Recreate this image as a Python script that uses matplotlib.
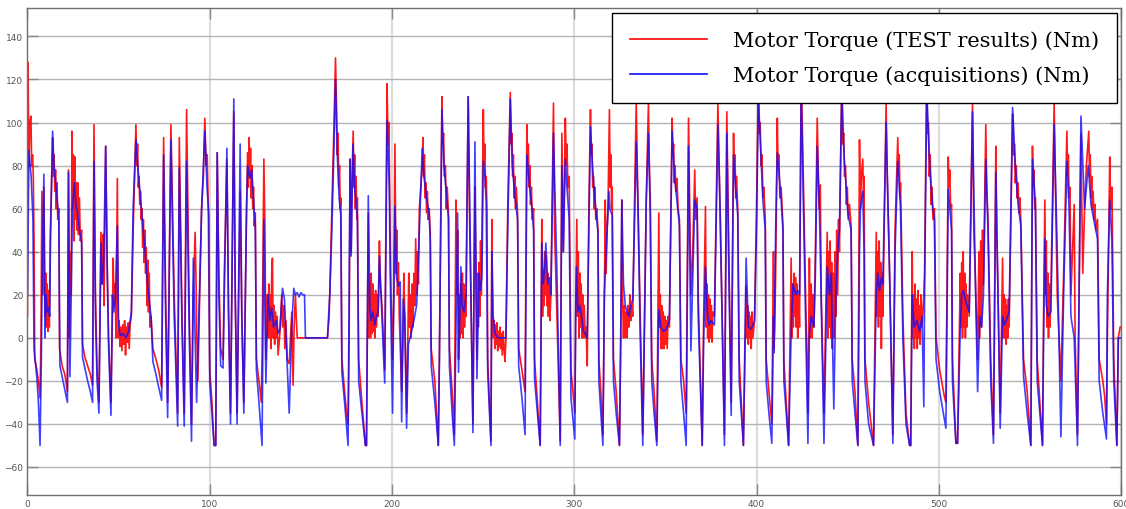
import matplotlib
matplotlib.use("Agg")
import matplotlib.pyplot as plt

# (time s, torque Nm), one list per 100 s window
blue_000 = [(0, 20), (0.8, 87), (2.0, 75), (3.0, 55), (3.6, -5), (4.5, -13), (5.2, -19), (6.0, -30), (6.9, -50), (7.6, -10), (8.2, 40), (9.0, 76), (9.6, 0), (10.2, 20), (10.8, 12), (11.5, 14), (12.2, 10), (12.6, 45), (13.8, 96), (14.5, 80), (15.5, 72), (16.5, 62), (17.2, 55), (17.8, -13), (19.0, -18), (20.5, -24), (21.9, -30), (22.5, 77), (23.3, -18), (24.0, 20), (24.6, 60), (25.7, 72), (26.5, 62), (27.5, 58), (28.5, 50), (29.7, 45), (30.2, -9), (31.5, -14), (33.0, -20), (34.5, -25), (35.7, -30), (36.5, 82), (37.3, 10), (38.2, -20), (39.2, -35), (40.3, 44), (41.0, 25), (41.8, 35), (42.9, 89), (43.8, 30), (44.5, -4), (45.8, -36), (46.6, 20), (47.3, 12), (48.2, 18), (49.3, 52), (50.0, 5), (51.0, 1), (52.5, 2), (54.0, 0), (55.5, 3), (57.0, 12), (58.0, 61), (59.5, 92), (60.5, 80), (62.0, 65), (63.5, 50), (65.0, 35), (66.3, 21), (67.8, 10), (68.8, -11), (70.5, -17), (72.0, -23), (73.6, -29), (74.7, 85), (75.8, 10), (76.9, -37), (78.7, 92), (80.5, 10), (82.4, -41), (83.3, 79), (84.8, 5), (86.0, -41), (87.3, 82), (88.8, 0), (90.0, -48), (91.0, 37), (92.8, -30), (95.5, 58), (97.3, 96), (98.5, 70), (99.5, 57)]
blue_100 = [(100.0, -21), (101.2, -35), (102.4, -50), (103.3, -50), (104.1, 86), (105.0, 20), (106.0, -13), (107.3, -14), (108.0, 20), (109.4, 88), (110.3, 10), (111.4, -40), (113.2, 111), (114.0, 20), (115.0, -40), (116.7, 90), (117.6, 10), (118.7, -35), (120.2, 60), (120.8, 80), (122.0, 74), (123.0, 78), (124.3, 60), (125.0, 52), (125.6, -15), (127.0, -30), (128.7, -50), (129.7, 55), (130.8, -21), (132.0, 20), (133.0, 8), (134.0, 14), (135.0, 5), (136.5, 8), (137.5, 2), (138.5, 4), (139.9, 23), (141.0, 18), (143.6, -35), (145.0, 5), (146.1, 23), (147.0, 20), (148.0, 21), (149.0, 19), (150.0, 21), (151.0, 20), (152.0, 20), (152.5, 0), (164.6, 0), (165.9, 21), (167.0, 50), (168.2, 90), (169.0, 120), (170.0, 85), (171.0, 65), (171.9, 57), (172.5, -16), (174.0, -30), (175.9, -50), (177.0, 83), (177.6, 38), (178.6, 90), (179.5, 70), (181.0, 57), (181.7, -20), (183.5, -35), (185.4, -50), (186.0, -50), (187.0, 66), (187.8, 15), (188.5, 8), (189.5, 12), (190.5, 6), (191.5, 10), (192.4, 12), (193.1, 38), (194.5, 10), (196.0, -21), (197.3, 101), (198.5, 70), (199.2, 20)]
blue_200 = [(200.3, -35), (201.0, 20), (201.6, 61), (202.5, 28), (203.5, 24), (204.5, 26), (205.3, -39), (206.2, 18), (207.0, 10), (208.0, -42), (209.0, -3), (210.5, 2), (212.0, 8), (213.5, 15), (214.0, 25), (215.0, 50), (216.6, 88), (217.5, 75), (219.0, 65), (220.4, 57), (221.0, 45), (221.5, -13), (223.5, -30), (225.4, -50), (226.0, -10), (227.4, 106), (228.5, 80), (230.0, 65), (231.0, 55), (231.5, -13), (233.0, -35), (234.2, -50), (235.5, 30), (236.0, 58), (236.5, -16), (237.8, 33), (238.5, 15), (239.5, 12), (240.6, 20), (241.8, 112), (243.0, 40), (244.4, -44), (245.5, 91), (246.6, -19), (247.8, 30), (248.5, 22), (249.3, 28), (250.1, 82), (251.0, 75), (251.7, 62), (252.5, -16), (254.3, -50), (254.8, 40), (255.5, 10), (256.5, 2), (258.0, 0), (260.0, 0), (262.5, 0), (263.5, 50), (264.9, 111), (266.0, 80), (267.5, 65), (268.9, 55), (269.5, -13), (271.3, -28), (273.0, -45), (274.0, 85), (275.0, 75), (276.5, 62), (277.7, 50), (278.2, -19), (279.8, -35), (281.3, -50), (282.2, 44), (283.0, 25), (284.0, 35), (284.4, 44), (285.5, 25), (286.5, 28), (287.2, 20), (288.6, 95), (290.5, 30), (292.3, -50), (293.2, 80), (294.0, 40), (295.1, 83), (296.0, 70), (297.2, 55), (298.2, -28), (300.3, -47)]
blue_300 = [(300.8, 15), (301.2, 33), (302.0, 12), (303.0, 15), (304.0, 10), (305.0, 3), (306.0, 2), (307.1, 0), (308.0, 50), (308.9, 98), (310.0, 80), (311.3, 64), (313.0, 49), (313.5, -20), (314.6, -35), (315.7, -50), (316.5, 20), (317.5, 40), (319.0, 68), (319.5, 60), (320.8, 57), (321.5, -20), (323.0, -35), (324.8, -50), (325.5, 0), (326.1, 64), (327.0, 25), (328.0, 15), (329.0, 12), (330.0, 10), (331.0, 15), (332.1, 18), (333.0, 50), (334.0, 91), (335.0, 60), (336.2, 0), (337.6, -50), (339.5, 64), (340.7, 95), (341.7, 57), (342.5, -20), (343.8, -35), (345.3, -50), (346.4, 13), (347.5, 5), (349.0, 3), (350.5, 4), (352.2, 8), (353.7, 96), (355.0, 75), (356.3, 64), (357.7, 52), (358.5, -20), (360.0, -35), (361.4, -50), (362.7, 89), (364.0, -6), (366.1, 64), (367.4, 60), (368.0, 10), (370.2, -50), (371.0, 0), (372.0, 33), (373.0, 12), (374.0, 6), (375.0, 8), (376.9, 6), (378.8, 99), (380.0, 60), (382.4, -50), (383.7, 95), (384.8, 30), (386.1, -36), (387.4, 85), (388.5, 70), (389.7, 57), (390.5, -20), (392.8, -50), (394.3, 37), (395.5, 5), (397.0, 4), (398.9, 8), (400.0, 50)]
blue_400 = [(401.0, 112), (403.5, 64), (404.8, 50), (405.3, -20), (406.8, -35), (408.4, -49), (409.3, 10), (409.6, -7), (410.5, 50), (411.4, 86), (413.5, 64), (414.5, 50), (415.0, -20), (416.3, -35), (417.6, -50), (419.0, 2), (420.0, 25), (421.5, 20), (422.5, 22), (423.6, 20), (424.5, 115), (426.0, 50), (428.2, -49), (429.0, 2), (430.0, 10), (431.5, 5), (432.3, 30), (433.3, 89), (434.5, 60), (437.0, -49), (438.8, 33), (440.0, 20), (441.0, 30), (442.4, -33), (443.5, 20), (444.5, 40), (445.5, 50), (446.8, 115), (448.0, 85), (450.1, 58), (451.9, 50), (452.5, -20), (454.0, -35), (455.6, -50), (456.5, 40), (457.0, 60), (458.3, 68), (459.0, 40), (459.5, -20), (461.5, -40), (464.2, -50), (465.7, 20), (466.5, 30), (467.5, 22), (468.5, 28), (469.3, 25), (471.1, 100), (473.0, 30), (474.8, -49), (476.0, 40), (477.5, 82), (479.0, 60), (480.3, 0), (482.0, -40), (484.0, -50), (484.6, -50), (485.4, 20), (486.5, 5), (488.0, 8), (489.5, 3), (490.8, 10), (491.8, -32), (492.2, 20), (493.4, 115), (495.0, 80), (496.5, 62), (497.6, 55)]
blue_500 = [(498.5, -10), (500.5, -25), (503.9, -42), (505.2, 69), (507.0, 50), (507.5, -20), (509.4, -49), (510.3, -49), (511.8, 5), (512.5, 20), (513.5, 22), (514.5, 18), (515.5, 15), (516.7, 12), (518.5, 105), (520.0, 30), (521.3, -25), (522.5, 10), (523.5, 5), (524.5, 20), (525.8, 83), (527.0, 50), (528.5, -20), (530.0, -49), (531.3, 77), (532.5, 20), (533.7, -42), (535.0, 10), (536.0, 6), (537.0, 8), (538.6, 12), (540.5, 107), (542.0, 80), (543.5, 62), (545.0, 52), (546.5, -18), (548.5, -35), (550.5, -50), (551.4, 83), (553.0, 62), (554.0, -20), (556.9, -50), (557.5, 0), (558.2, 46), (559.0, 15), (560.0, 10), (561.5, 12), (563.3, 99), (565.0, 40), (567.0, -46), (568.5, 20), (570.3, 82), (571.5, 60), (572.5, 10), (574.3, 0), (576.1, -50), (578.0, 103), (580.0, 60), (582.0, 80), (583.5, 62), (585.0, 55), (587.1, 46), (588.0, -20), (590.0, -35), (592.0, -47), (592.5, 20), (593.8, 64), (595.0, 45), (596.0, -20), (597.7, -50), (598.5, 0), (600.0, 0)]

red_000 = [(0, 10), (0.3, 128), (0.8, 80), (1.3, 100), (1.9, 103), (2.3, 80), (2.8, 85), (3.2, 75), (3.6, 45), (4.0, -10), (5.0, -14), (6.0, -20), (6.9, -28), (7.4, 0), (7.9, 68), (8.5, 20), (9.0, 70), (9.6, 10), (10.0, 30), (10.4, 5), (10.8, 25), (11.2, 3), (11.6, 22), (12.0, 5), (12.6, 50), (13.8, 93), (14.2, 75), (14.6, 85), (15.0, 68), (15.4, 78), (15.8, 60), (16.2, 72), (16.6, 55), (17.2, 60), (17.6, -5), (19.0, -13), (20.5, -17), (21.9, -25), (22.5, 78), (23.0, 0), (23.5, 40), (24.0, 20), (24.4, 96), (24.8, 60), (25.2, 85), (25.6, 45), (26.0, 84), (26.4, 55), (26.8, 72), (27.2, 50), (27.6, 72), (28.0, 48), (28.5, 65), (29.0, 45), (29.7, 50), (30.2, -3), (31.5, -9), (33.0, -13), (34.5, -17), (35.7, -22), (36.5, 99), (37.3, 20), (38.2, -15), (39.2, -30), (39.8, 10), (40.3, 49), (41.0, 25), (41.5, 48), (42.0, 15), (42.9, 89), (43.8, 30), (44.5, 0), (45.8, -30), (46.6, 10), (47.0, 37), (47.5, 15), (48.0, 25), (48.6, 0), (49.3, 74), (49.8, 0), (50.3, 8), (50.8, -4), (51.3, 5), (51.8, -6), (52.3, 6), (52.8, -3), (53.3, 8), (53.8, -8), (54.3, 5), (54.8, -2), (55.3, 7), (55.8, -5), (56.3, 6), (57.0, 10), (58.0, 50), (59.5, 99), (60.0, 80), (60.4, 90), (60.8, 70), (61.2, 75), (61.6, 62), (62.0, 68), (62.4, 55), (62.8, 60), (63.2, 42), (63.6, 55), (64.0, 35), (64.4, 50), (64.8, 30), (65.2, 42), (65.6, 15), (66.0, 36), (66.4, 12), (66.8, 30), (67.2, 5), (67.8, 10), (68.8, -5), (70.5, -10), (72.0, -15), (73.6, -23), (74.7, 93), (75.8, 20), (76.9, -30), (78.7, 99), (80.5, 20), (82.4, -35), (83.3, 93), (84.8, 10), (86.0, -35), (87.3, 106), (88.8, 10), (90.0, -40), (91.0, 20), (92.0, 49), (92.5, 25), (92.8, 5), (93.5, -20), (95.5, 60), (96.5, 75), (97.3, 102), (98.0, 80), (98.6, 85), (99.2, 60)]
red_100 = [(100.0, -15), (101.2, -30), (102.4, -50), (103.3, -50), (104.1, 86), (105.0, 30), (106.0, -5), (107.3, -10), (108.0, 30), (109.4, 83), (110.3, 15), (111.4, -35), (113.2, 105), (114.0, 20), (115.0, -35), (116.7, 68), (117.6, 10), (118.7, -30), (120.2, 60), (120.8, 86), (121.2, 70), (121.6, 93), (122.0, 75), (122.4, 88), (122.8, 65), (123.2, 80), (123.6, 60), (124.0, 70), (124.4, 52), (125.0, 58), (125.6, -10), (127.0, -20), (128.3, -30), (128.7, -10), (129.7, 83), (130.3, 50), (130.8, -10), (131.5, 20), (132.0, 0), (132.4, 25), (132.8, 0), (133.2, 20), (133.6, -5), (134.0, 30), (134.4, 37), (134.8, 0), (135.2, 15), (135.6, -3), (136.0, 12), (136.5, 0), (137.0, 10), (137.5, -8), (138.5, 2), (139.5, 20), (140.0, 5), (140.6, 15), (141.2, -5), (141.8, 8), (142.5, -10), (143.6, -12), (144.5, 3), (145.0, 12), (145.7, -22), (146.3, 5), (147.0, 20), (147.5, 9), (148.0, 0), (152.5, 0), (164.6, 0), (165.5, 10), (165.9, 21), (167.0, 60), (168.2, 100), (169.0, 130), (169.5, 110), (170.0, 85), (170.4, 95), (170.8, 70), (171.2, 80), (171.6, 60), (171.9, 65), (172.5, -10), (174.0, -25), (175.4, -38), (175.9, -40), (176.5, 0), (177.0, 83), (177.6, 40), (178.0, 70), (178.7, 96), (179.1, 70), (179.5, 85), (179.9, 60), (180.3, 75), (180.7, 55), (181.0, 65), (181.7, -10), (183.5, -30), (185.4, -50), (186.0, -50), (187.0, 58), (187.4, 0), (187.8, 25), (188.2, 0), (188.6, 30), (189.0, 2), (189.4, 25), (189.8, 3), (190.2, 20), (190.6, 0), (191.0, 22), (191.5, 5), (192.0, 20), (192.4, 10), (193.1, 45), (193.6, 25), (194.5, 15), (196.0, -15), (197.3, 118), (197.8, 90), (198.3, 100), (198.8, 60), (199.2, 30)]
red_200 = [(200.3, -10), (201.0, 20), (201.6, 90), (202.2, 30), (202.6, 50), (203.0, 20), (203.5, 35), (204.0, 10), (205.3, -25), (206.0, 0), (206.5, 30), (207.0, 10), (208.0, -35), (208.7, 0), (209.2, 30), (209.6, 5), (210.0, 20), (210.5, 0), (211.0, 25), (211.5, 5), (212.0, 30), (212.5, 15), (213.0, 46), (213.5, 20), (214.0, 40), (214.5, 25), (215.0, 60), (216.6, 80), (217.0, 93), (217.4, 75), (217.8, 85), (218.2, 65), (218.6, 72), (219.0, 58), (219.4, 68), (219.8, 55), (220.4, 60), (221.0, 48), (221.5, -5), (223.5, -20), (224.8, -40), (225.4, -50), (226.0, -10), (227.4, 112), (227.8, 90), (228.3, 95), (228.8, 75), (229.3, 80), (229.8, 60), (230.3, 70), (231.0, 57), (231.5, -5), (233.0, -25), (234.2, -45), (235.1, 64), (235.6, 20), (236.0, 50), (236.5, -10), (237.0, 20), (237.4, 0), (237.8, 25), (238.2, 2), (238.6, 30), (239.0, 0), (239.4, 25), (239.8, 5), (240.2, 20), (240.6, 10), (241.8, 112), (242.5, 60), (244.4, -40), (245.5, 70), (246.6, -10), (247.0, 30), (247.4, 5), (247.8, 35), (248.2, 10), (248.6, 45), (249.0, 20), (249.4, 50), (250.1, 106), (250.5, 80), (250.9, 90), (251.3, 70), (251.7, 75), (252.1, 60), (252.5, -10), (254.3, -48), (254.8, 55), (255.2, 10), (255.6, 0), (256.0, 8), (256.4, -5), (256.8, 6), (257.2, -3), (257.6, 7), (258.0, -6), (258.4, 3), (258.8, -4), (259.2, 5), (259.6, -5), (260.0, 2), (260.5, -8), (261.0, 3), (261.5, -5), (262.0, -11), (262.5, 0), (263.5, 60), (264.9, 114), (265.4, 90), (265.8, 95), (266.2, 75), (266.6, 85), (267.0, 65), (267.4, 75), (267.8, 60), (268.2, 70), (268.9, 58), (269.5, -5), (271.3, -15), (273.0, -25), (274.0, 99), (274.4, 80), (274.8, 90), (275.2, 70), (275.6, 80), (276.0, 62), (276.5, 70), (277.0, 55), (277.7, 60), (278.2, -10), (279.8, -30), (281.3, -50), (282.2, 55), (282.6, 10), (283.0, 30), (283.4, 15), (283.8, 40), (284.2, 20), (284.6, 38), (285.0, 15), (285.4, 30), (285.8, 10), (286.2, 25), (286.6, 8), (287.2, 20), (288.6, 109), (289.2, 50), (290.5, 10), (292.3, -48), (293.2, 95), (294.0, 40), (295.1, 102), (295.6, 80), (296.0, 90), (296.5, 70), (297.2, 75), (298.2, -15), (300.3, -35)]
red_300 = [(300.8, 10), (301.4, 55), (301.8, 10), (302.2, 40), (302.6, 0), (303.0, 30), (303.4, 5), (303.8, 25), (304.2, 0), (304.6, 20), (305.0, 0), (305.5, 15), (306.0, 0), (306.5, 5), (307.1, -13), (308.0, 60), (308.9, 106), (309.3, 85), (309.7, 90), (310.1, 70), (310.5, 75), (310.9, 60), (311.3, 70), (311.8, 55), (312.3, 60), (313.0, 50), (313.5, -10), (314.6, -25), (315.7, -45), (316.2, -10), (316.5, 20), (317.0, 64), (317.5, 30), (318.0, 50), (318.5, 60), (319.3, 106), (319.7, 70), (320.1, 85), (320.5, 60), (320.8, 70), (321.5, -10), (323.0, -25), (324.8, -50), (325.5, 0), (326.1, 64), (326.5, 20), (327.0, 0), (327.5, 15), (328.0, 0), (328.5, 12), (329.0, 0), (329.5, 15), (330.0, 5), (330.5, 20), (331.0, 8), (331.5, 15), (332.1, 10), (333.0, 60), (334.0, 109), (335.0, 60), (336.2, 10), (337.6, -45), (339.5, 64), (340.7, 109), (341.2, 80), (341.7, 65), (342.5, -10), (343.8, -25), (345.3, -48), (346.4, 58), (346.8, 5), (347.2, 20), (347.6, -5), (348.0, 15), (348.4, -5), (348.8, 12), (349.2, -5), (349.6, 10), (350.0, -3), (350.5, 8), (351.0, -5), (351.5, 10), (352.2, 5), (353.7, 102), (354.1, 85), (354.5, 90), (354.9, 72), (355.3, 80), (355.7, 68), (356.3, 74), (357.0, 60), (357.7, 55), (358.5, -10), (360.0, -20), (361.4, -35), (362.7, 102), (364.0, 20), (365.0, 40), (366.1, 78), (366.6, 55), (367.4, 65), (368.0, 20), (370.2, -50), (371.0, 10), (372.0, 61), (372.4, 5), (372.8, 25), (373.2, 0), (373.6, 20), (374.0, -2), (374.4, 18), (374.8, 0), (375.2, 15), (375.6, -2), (376.0, 12), (376.9, 10), (378.8, 109), (380.0, 60), (382.4, -45), (383.7, 105), (384.8, 40), (386.1, -30), (387.4, 95), (387.8, 75), (388.2, 85), (388.6, 65), (389.0, 75), (389.7, 60), (390.5, -10), (392.8, -50), (394.3, 24), (394.7, 0), (395.1, 15), (395.5, -3), (395.9, 12), (396.3, 0), (396.7, 10), (397.1, -5), (397.5, 12), (398.0, 0), (398.9, 8), (400.0, 60)]
red_400 = [(401.0, 120), (401.5, 95), (402.0, 100), (402.5, 80), (403.0, 85), (403.5, 65), (404.0, 70), (404.8, 55), (405.3, -10), (406.8, -25), (408.4, -40), (409.3, 40), (409.6, -5), (410.0, 5), (410.5, 30), (411.4, 102), (411.8, 80), (412.3, 85), (412.8, 65), (413.5, 70), (414.5, 52), (415.0, -10), (416.3, -30), (417.6, -50), (419.0, 37), (419.4, 0), (419.8, 25), (420.2, 5), (420.6, 30), (421.0, 10), (421.4, 28), (421.8, 5), (422.2, 25), (422.6, 0), (423.0, 20), (423.6, 5), (424.5, 125), (426.0, 60), (428.2, -35), (429.0, 37), (429.5, 0), (430.0, 25), (430.5, 0), (431.0, 20), (431.5, 5), (432.3, 40), (433.3, 102), (433.8, 80), (434.3, 60), (435.0, 71), (435.5, 20), (437.0, -35), (438.8, 49), (439.2, 0), (439.6, 40), (440.0, 5), (440.4, 45), (440.8, 0), (441.2, 35), (441.6, -5), (442.0, 30), (442.4, 0), (443.0, 40), (443.5, 10), (444.0, 50), (444.5, 20), (445.0, 55), (445.5, 40), (446.8, 125), (447.3, 90), (447.8, 95), (448.3, 75), (448.8, 80), (449.3, 62), (449.8, 70), (450.3, 55), (451.0, 62), (451.9, 52), (452.5, -10), (454.0, -25), (455.6, -50), (456.5, 92), (457.0, 60), (457.5, 75), (458.3, 83), (458.7, 65), (459.0, 75), (459.5, -10), (461.5, -30), (464.2, -50), (465.7, 49), (466.1, 10), (466.5, 40), (466.9, 5), (467.3, 45), (467.7, 10), (468.1, 35), (468.5, -5), (468.9, 30), (469.3, 10), (471.1, 109), (471.6, 80), (473.0, 30), (474.8, -45), (476.0, 50), (477.5, 93), (477.9, 75), (478.3, 85), (478.7, 65), (479.0, 72), (480.3, 10), (482.0, -35), (484.0, -50), (484.6, -50), (485.4, 40), (485.8, 0), (486.2, 20), (486.6, -5), (487.0, 25), (487.4, 0), (487.8, 18), (488.2, -5), (488.6, 22), (489.0, 0), (489.4, 15), (489.8, -3), (490.2, 20), (490.8, 5), (491.8, 20), (492.2, 30), (493.4, 125), (493.8, 95), (494.3, 100), (494.8, 75), (495.3, 85), (495.8, 62), (496.3, 70), (496.8, 55), (497.6, 60)]
red_500 = [(498.5, 0), (500.5, -15), (503.0, -27), (503.9, -30), (505.2, 84), (505.6, 70), (506.0, 78), (506.5, 60), (507.0, 62), (507.5, -10), (509.4, -49), (510.3, -49), (511.8, 30), (512.2, 5), (512.6, 35), (513.0, 0), (513.4, 40), (513.8, 5), (514.2, 30), (514.6, 0), (515.0, 25), (515.4, 5), (515.8, 20), (516.7, 10), (518.5, 109), (519.2, 50), (520.0, 30), (521.3, -10), (522.0, 40), (522.5, 0), (523.0, 45), (523.5, 5), (524.0, 50), (524.5, 25), (525.8, 99), (526.3, 70), (527.0, 55), (528.5, -10), (530.0, -45), (531.3, 89), (531.8, 50), (532.5, 20), (533.7, -35), (535.0, 37), (535.4, 0), (535.8, 20), (536.2, 0), (536.6, 18), (537.0, -3), (537.4, 15), (537.8, 0), (538.2, 18), (538.6, 5), (540.5, 104), (541.0, 85), (541.5, 90), (542.0, 72), (542.5, 80), (543.0, 65), (543.5, 72), (544.0, 58), (544.5, 65), (545.0, 55), (546.5, -10), (548.5, -25), (550.5, -50), (551.4, 89), (551.8, 70), (552.2, 78), (552.6, 60), (553.0, 65), (554.0, -10), (556.9, -50), (557.5, 10), (558.2, 64), (558.6, 20), (559.0, 45), (559.4, 5), (559.8, 30), (560.2, 0), (560.6, 25), (561.0, 5), (561.5, 20), (563.3, 109), (564.0, 70), (565.0, 20), (567.0, -20), (568.5, 30), (570.3, 96), (570.7, 75), (571.1, 85), (571.5, 65), (572.0, 70), (572.5, 20), (574.3, 62), (574.8, 0), (576.1, -45), (578.0, 95), (578.5, 60), (579.0, 30), (580.0, 60), (581.0, 80), (582.3, 96), (582.7, 75), (583.1, 85), (583.5, 65), (583.9, 75), (584.3, 60), (584.7, 68), (585.1, 55), (585.6, 62), (586.2, 50), (587.1, 55), (588.0, -10), (590.0, -20), (591.0, -27), (592.0, -40), (592.5, 0), (593.8, 84), (594.3, 60), (595.0, 70), (596.0, -10), (597.7, -50), (598.5, 0), (599.5, 5), (600.0, 5)]

x_ticks = [0, 100, 200, 300, 400, 500, 600]
y_ticks = [-60, -40, -20, 0, 20, 40, 60, 80, 100, 120, 140]
labels = ["Motor Torque (TEST results) (Nm)", "Motor Torque (acquisitions) (Nm)"]

red = red_000 + red_100 + red_200 + red_300 + red_400 + red_500
blue = blue_000 + blue_100 + blue_200 + blue_300 + blue_400 + blue_500
red_t, red_v = zip(*red)
blue_t, blue_v = zip(*blue)

fig = plt.figure(figsize=(11.26, 5.10), dpi=100)
ax = fig.add_axes([0.0244, 0.0275, 0.9712, 0.954])

ax.plot(red_t, red_v, color="#ff0000", lw=1.2, alpha=0.9, label=labels[0])
ax.plot(blue_t, blue_v, color="#1010ff", lw=1.2, alpha=0.8, label=labels[1])

ax.set_xlim(0, 600)
ax.set_ylim(-73, 153)
ax.set_xticks(x_ticks)
ax.set_yticks(y_ticks)
ax.tick_params(direction="in", length=8, width=1, colors="#888888", labelsize=6.5,
               labelcolor="#555555", top=True, right=True, pad=3)
ax.grid(True, axis="y", color="#b4b4b4", lw=1.0)
ax.grid(True, axis="x", color="#dddddd", lw=1.6)
ax.set_axisbelow(True)
for sp in ax.spines.values():
    sp.set_color("#707070")
    sp.set_linewidth(1.0)

leg = ax.legend(loc="upper right", prop={"family": "DejaVu Serif", "size": 15},
                handlelength=3.7, handletextpad=1.25, borderpad=0.85, labelspacing=0.75,
                borderaxespad=0.2, fancybox=False, framealpha=1.0, edgecolor="black")
leg.get_frame().set_linewidth(1.0)
for h in leg.get_lines():
    h.set_alpha(1.0)

fig.savefig("out.png", dpi=100)
